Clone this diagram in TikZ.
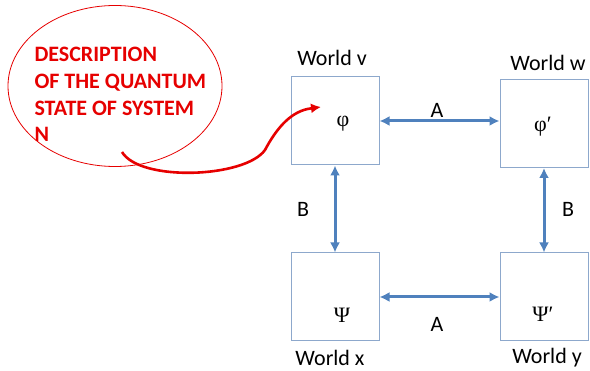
\documentclass[tikz,border=0pt]{standalone}
\usepackage{fontspec}
\setmainfont{Carlito}
\newfontfamily\grkfont{Liberation Serif}
\usetikzlibrary{shapes.geometric,arrows.meta,positioning,calc}

\definecolor{boxline}{RGB}{141,168,204}
\definecolor{linkblue}{RGB}{79,129,189}
\definecolor{notered}{RGB}{230,0,0}

\tikzset{
  worldbox/.style={draw=boxline, line width=1pt, minimum width=88pt, minimum height=88pt, inner sep=0pt},
  worldlabel/.style={anchor=base, font=\fontsize{22}{22}\selectfont},
  statelabel/.style={anchor=base, font=\grkfont\fontsize{22}{22}\selectfont},
  link/.style={draw=linkblue, line width=3pt, {Latex[length=10pt,width=10pt]}-{Latex[length=10pt,width=10pt]}},
  linklabel/.style={anchor=base, font=\fontsize{22}{22}\selectfont}
}

\begin{document}
\begin{tikzpicture}[x=1pt,y=-1pt]
  \useasboundingbox (0,0) rectangle (590,371);

  % note bubble
  \node[ellipse, draw=notered, line width=0.8pt, minimum width=214pt, minimum height=161pt] (note) at (115,86) {};
  \node[anchor=base west, align=left, text=notered, font=\bfseries\fontsize{22}{26.7}\selectfont] (notetext) at (31,142)
    {DESCRIPTION\\OF THE QUANTUM\\STATE OF SYSTEM\\N};

  % worlds
  \node[worldbox] (v) at (335,121) {};
  \node[worldbox] (w) at (544,123.5) {};
  \node[worldbox] (x) at (335,297) {};
  \node[worldbox] (y) at (544,297) {};

  \node[worldlabel] (vname) at (332,66) {World v};
  \node[worldlabel] (wname) at (548,71) {World w};
  \node[worldlabel] (xname) at (330,366) {World x};
  \node[worldlabel] (yname) at (547,364) {World y};

  % states
  \node[statelabel] (phi) at (343,127) {φ};
  \node[statelabel] (phip) at (543,132) {φ′};
  \node[statelabel] (psi) at (342,323) {Ψ};
  \node[statelabel] (psip) at (543,322) {Ψ′};

  % links between worlds
  \draw[link] (v.east) -- (v.east -| w.west);
  \draw[link] (x.east) -- (y.west);
  \draw[link] (v.south) -- (v.south |- x.north);
  \draw[link] (w.south) -- (w.south |- y.north);

  \node[linklabel] (atop) at (437,118) {A};
  \node[linklabel] (abot) at (437,332) {A};
  \node[linklabel] (bleft) at (303,217) {B};
  \node[linklabel] (bright) at (568,217) {B};

  % pointer from the note into world v
  \coordinate (tail) at (122,152);
  \coordinate (tip) at (321,107);
  \draw[notered, line width=2.6pt, -{Latex[length=10pt,width=10pt]}]
    (tail) .. controls (140,182) and (245,178) .. (265,150)
           .. controls (282,118) and (298,110) .. (tip);
\end{tikzpicture}
\end{document}
